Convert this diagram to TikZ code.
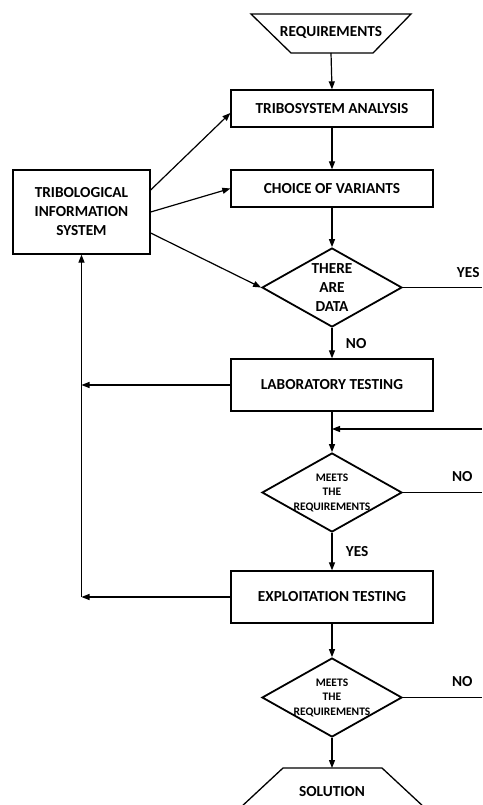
\documentclass[tikz,border=0pt]{standalone}
\usepackage{fontspec}
\setmainfont{Carlito}
\usetikzlibrary{shapes.geometric,arrows.meta,calc}
\begin{document}
\begin{tikzpicture}[x=1pt,y=-1pt,
  every node/.style={font=\bfseries\fontsize{15.3}{19}\selectfont, align=center},
  box/.style={draw, line width=1.3pt, inner sep=0pt, minimum width=202pt},
  dia/.style={draw, diamond, line width=1.8pt, inner sep=0pt, minimum width=140pt, minimum height=79pt, aspect=1.772},
  lbl/.style={font=\bfseries\fontsize{15.3}{19}\selectfont},
  small/.style={font=\bfseries\fontsize{11.5}{14.5}\selectfont},
  outline/.style={line width=1.3pt, line join=miter},
  conn/.style={line width=1.2pt},
  arr/.style={conn, -{Triangle[length=8pt,width=6pt]}}
]
\useasboundingbox (0,0) rectangle (482,805);
\clip (0,0) rectangle (482,805);
\fill[white] (0,0) rectangle (482,805);

% main column
\node (req) at (331,32) {REQUIREMENTS};
\draw[outline] (251,14) -- (411,14) -- (373,53) -- (291,53) -- cycle;
\coordinate (reqbot) at (331,53);
\node[box, minimum height=37pt] (tri) at (332,108.5) {TRIBOSYSTEM ANALYSIS};
\node[box, minimum height=37pt] (cv) at (332,188.5) {CHOICE OF VARIANTS};
\node[draw, line width=1.3pt, minimum width=137pt, minimum height=84pt, inner sep=0pt]
      (tis) at (81.5,212) {TRIBOLOGICAL\\INFORMATION\\SYSTEM};
\node[dia, label={[lbl]center:THERE\\ARE\\DATA}] (d1) at (332,287.5) {};
\node[box, minimum height=52pt] (lab) at (332,385) {LABORATORY TESTING};
\node[dia, label={[small]center:MEETS\\THE\\REQUIREMENTS}] (d2) at (332,492.5) {};
\node[box, minimum height=52pt] (exp) at (332,597) {EXPLOITATION TESTING};
\node[dia, label={[small]center:MEETS\\THE\\REQUIREMENTS}] (d3) at (332,697.5) {};
\node (sol) at (332,792) {SOLUTION};
\coordinate (soltop) at (332,768);
\draw[outline] (240,808) -- (283,768) -- (382,768) -- (425,808);

% right side ends
\coordinate (yes1) at (482,287.5);
\coordinate (in2) at (482,429);
\coordinate (j2) at (332,429);
\coordinate (no2) at (482,492.5);
\coordinate (no3) at (482,697.5);

% vertical flow
\draw[arr] (reqbot) -- (tri.north);
\draw[arr] (tri.south) -- (cv.north);
\draw[arr] (cv.south) -- (d1.north);
\draw[arr] (d1.south) -- (lab.north) node[midway, anchor=west, xshift=10pt, lbl] {NO};
\draw[arr] (lab.south) -- (d2.north);
\draw[arr] (in2) -- (j2);
\draw[arr] (d2.south) -- (exp.north) node[midway, anchor=west, xshift=10pt, lbl] {YES};
\draw[arr] (exp.south) -- (d3.north);
\draw[arr] (d3.south) -- (soltop);

% exits to the right
\draw[conn] (d1.east) -- (yes1);
\node[lbl, anchor=east] (yeslbl) at (483,273) {YES};
\draw[conn] (d2.east) -- (no2);
\node[lbl, anchor=east] (nolbl2) at (476,477) {NO};
\draw[conn] (d3.east) -- (no3);
\node[lbl, anchor=east] (nolbl3) at (476,682) {NO};

% information system links
\draw[arr] ([yshift=22pt]tis.east) -- ([yshift=-4.5pt]tri.west);
\draw[arr] (tis.east) -- (cv.west);
\draw[arr] ([yshift=-21pt]tis.east) -- (d1.west);

% feedback
\coordinate (fbL) at (tis.south |- lab.west);
\coordinate (fbE) at (tis.south |- exp.west);
\draw[arr] (fbE) -- (tis.south);
\draw[arr] (lab.west) -- (fbL);
\draw[arr] (exp.west) -- (fbE);
\end{tikzpicture}
\end{document}
